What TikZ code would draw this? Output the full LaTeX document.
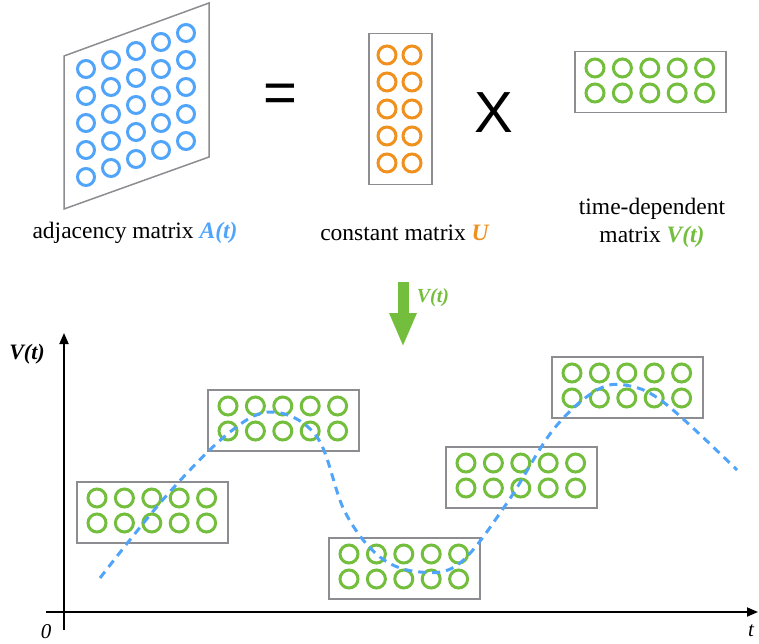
\documentclass[tikz,border=0pt]{standalone}
\usepackage{fontspec}
\setmainfont{Liberation Serif}
\newfontfamily\arialfont{Liberation Sans}
\usetikzlibrary{arrows.meta,positioning}
\definecolor{matblue}{RGB}{80,165,250}
\definecolor{matorange}{RGB}{240,145,30}
\definecolor{matgreen}{RGB}{115,190,60}
\definecolor{boxgray}{RGB}{140,140,145}
\tikzset{
  matbox/.style={draw=boxgray, line width=1.5pt, minimum width=151pt, minimum height=61pt, inner sep=0pt, anchor=north west},
  lbl/.style={font=\fontsize{23.5}{28}\selectfont, align=center},
  sym/.style={font=\arialfont\fontsize{58}{60}\selectfont},
  axis/.style={line width=1.8pt, -{Triangle[length=11pt,width=9pt]}},
}
% green 2x5 matrix: name, left, top
\newcommand{\greenmat}[3]{%
  \node[matbox] (#1) at (#2,#3) {};
  \foreach \i in {0,...,4}
    \foreach \j in {0,1}
      \draw[matgreen, line width=3pt] (#2+21+27.4*\i, #3+17+25*\j) circle[radius=9pt];
}

\begin{document}
\begin{tikzpicture}[x=1pt, y=-1pt]
  \useasboundingbox (0,0) rectangle (759,644);

  % adjacency matrix
  \draw[boxgray, line width=1.5pt] (64,56) -- (209,3) -- (209,157) -- (64,209) -- cycle;
  \foreach \i in {0,...,4}
    \foreach \j in {0,...,4}
      \draw[matblue, line width=3pt] (86+25*\i, 69+27*\j-9*\i) circle[radius=8.5pt];

  \node[sym] (eq) at (280,98) {=};

  % constant matrix
  \node[draw=boxgray, line width=1.5pt, minimum width=63pt, minimum height=151pt, inner sep=0pt, anchor=north west] (umat) at (368,33) {};
  \foreach \i in {0,1}
    \foreach \j in {0,...,4}
      \draw[matorange, line width=3pt] (387+25*\i, 55+27*\j) circle[radius=9pt];

  \node[sym] (times) at (494,113) {X};

  \greenmat{vtop}{574}{51}

  \node[lbl] (adjA) at (135,233) {adjacency matrix \textcolor{matblue}{\textbf{\textit{A(t)}}}};
  \node[lbl] (constU) at (405,233) {constant matrix \textcolor{matorange}{\textbf{\textit{U}}}};
  \node[lbl] (timeV) at (652,223) {time-dependent\\matrix \textcolor{matgreen}{\textbf{\textit{V(t)}}}};

  % arrow down
  \coordinate (arrtop) at (403,282);
  \coordinate (arrtip) at (403,347);
  \draw[matgreen, line width=11pt, -{Triangle[length=34pt,width=25pt]}] (arrtop) -- (arrtip);
  \node[lbl, text=matgreen, font=\fontsize{20}{22}\selectfont\bfseries\itshape] (arrV) at (433,298) {V(t)};

  % axes
  \coordinate (ybot) at (64,630);
  \coordinate (ytop) at (64,333);
  \coordinate (xleft) at (46,612);
  \coordinate (xright) at (758,612);
  \draw[axis] (ybot) -- (ytop);
  \draw[axis] (xleft) -- (xright);
  \node[lbl, font=\fontsize{21}{24}\selectfont\itshape] (zero) at (46,632) {0};
  \node[lbl, font=\fontsize{21}{24}\selectfont\itshape] (tlab) at (751,631) {t};
  \node[lbl, font=\fontsize{22}{24}\selectfont\bfseries\itshape] (vlab) at (27,354) {V(t)};

  % V(t) over time
  \greenmat{v1}{76}{481}
  \greenmat{v2}{207}{389}
  \greenmat{v3}{328}{537}
  \greenmat{v4}{445}{446}
  \greenmat{v5}{551}{356}

  \draw[matblue, line width=3pt, dash pattern=on 8pt off 6pt] plot[smooth, tension=0.6] coordinates {
    (100,578) (167,495) (230,432) (273,412) (317,437) (345,512) (380,557) (420,572)
    (460,563) (507,503) (553,430) (597,390) (630,386) (667,405) (737,470)};
\end{tikzpicture}
\end{document}
